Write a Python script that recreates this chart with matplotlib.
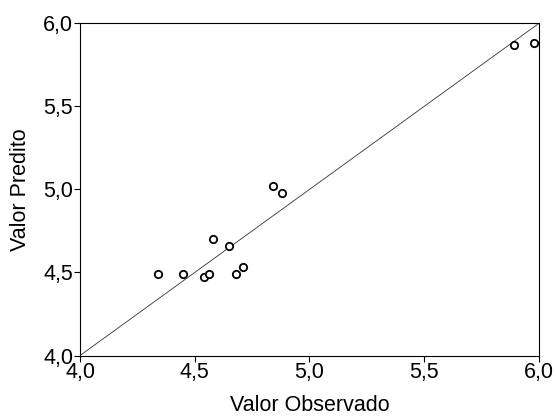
import matplotlib
matplotlib.use("Agg")
import matplotlib.pyplot as plt
from matplotlib.ticker import FuncFormatter

plt.rcParams['font.family'] = ['Liberation Sans', 'DejaVu Sans']

observado = [4.34, 4.45, 4.54, 4.56, 4.58, 4.65, 4.68, 4.71, 4.84, 4.88, 5.89, 5.98]
predito = [4.49, 4.49, 4.47, 4.49, 4.70, 4.66, 4.49, 4.53, 5.02, 4.98, 5.87, 5.88]
ticks = [4.0, 4.5, 5.0, 5.5, 6.0]

fig = plt.figure(figsize=(5.56, 4.16), dpi=100)
ax = fig.add_axes([0.1439, 0.1454, 0.8255, 0.7986])

ax.plot([4.0, 6.0], [4.0, 6.0], color='#333333', linewidth=0.6)
ax.plot(observado, predito, linestyle='none', marker='o', markersize=5.3,
        markerfacecolor='white', markeredgecolor='black', markeredgewidth=1.3)

ax.set_xlim(4.0, 6.0)
ax.set_ylim(4.0, 6.0)
ax.set_xticks(ticks)
ax.set_yticks(ticks)
fmt = FuncFormatter(lambda v, p: f"{v:.1f}".replace('.', ','))
ax.xaxis.set_major_formatter(fmt)
ax.yaxis.set_major_formatter(fmt)
ax.tick_params(direction='out', length=4, width=0.8, labelsize=15.5, pad=1)
for s in ax.spines.values():
    s.set_linewidth(0.8)

ax.set_xlabel('Valor Observado', fontsize=15.5, labelpad=8)
ax.set_ylabel('Valor Predito', fontsize=15.5, labelpad=9)

fig.savefig('out.png', dpi=100)
